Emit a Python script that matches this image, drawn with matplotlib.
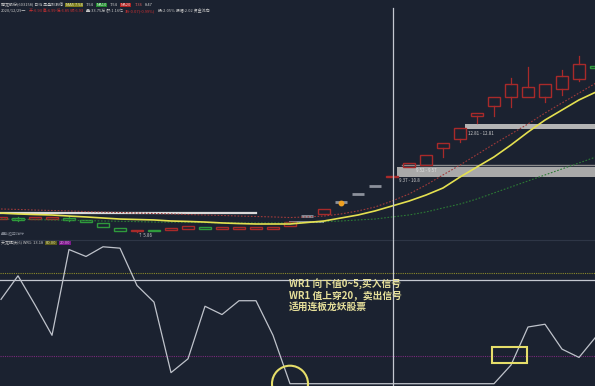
import matplotlib
matplotlib.use('Agg')
import matplotlib.pyplot as plt
from matplotlib.patches import Rectangle, Ellipse

plt.rcParams['font.family'] = ['Noto Sans CJK SC', 'DejaVu Sans']

W, H = 595, 386
BG = '#1b2230'

# ---- candle data (price) ----
opens  = [6.73, 6.80, 6.73, 6.73, 6.80, 6.67, 6.47, 6.13, 5.93, 6.03, 6.00, 6.07,
          6.17, 6.07, 6.07, 6.07, 6.07, 6.27, 6.90, 7.07, 7.83, 8.37, 8.90, 9.50,
          10.20, 10.33, 11.47, 12.07, 13.60, 14.27, 14.87, 14.87, 14.87, 15.40, 16.07, 16.93]
closes = [6.87, 6.67, 6.87, 6.87, 6.67, 6.53, 6.20, 5.93, 6.03, 5.93, 6.10, 6.27,
          6.07, 6.17, 6.17, 6.17, 6.17, 6.53, 6.97, 7.40, 7.90, 8.43, 8.97, 9.57,
          10.47, 11.00, 11.80, 12.80, 13.80, 14.87, 15.73, 15.53, 15.73, 16.27, 17.07, 16.80]
highs  = [6.87, 6.87, 6.87, 6.87, 6.93, 6.67, 6.47, 6.13, 6.03, 6.03, 6.10, 6.27,
          6.17, 6.17, 6.17, 6.17, 6.17, 6.53, 6.97, 7.40, 7.90, 8.43, 8.97, 9.57,
          10.47, 11.00, 11.80, 12.80, 13.80, 14.87, 16.13, 16.87, 15.73, 16.67, 17.60, 17.33]
lows   = [6.73, 6.60, 6.73, 6.73, 6.60, 6.53, 6.20, 5.93, 5.87, 5.93, 6.00, 6.07,
          6.07, 6.07, 6.07, 6.07, 6.07, 6.27, 6.90, 7.07, 7.83, 8.37, 8.90, 9.50,
          10.20, 10.33, 10.87, 11.87, 13.13, 13.60, 14.20, 14.87, 14.53, 15.00, 15.93, 16.53]
kinds  = ['r', 'g', 'r', 'r', 'g', 'g', 'g', 'g', 'r', 'g', 'r', 'r',
          'g', 'r', 'r', 'r', 'r', 'r', 'x', 'r', 'x', 'x', 'x', 'r',
          'r', 'r', 'r', 'r', 'r', 'r', 'r', 'r', 'r', 'r', 'r', 'g']

# ---- moving averages ----
ma_yellow = [7.13, 7.07, 7.03, 7.00, 6.93, 6.87, 6.80, 6.73, 6.70, 6.67, 6.60, 6.57,
             6.53, 6.47, 6.43, 6.40, 6.40, 6.40, 6.50, 6.60, 6.80, 7.00, 7.27, 7.60,
             7.93, 8.33, 8.80, 9.53, 10.20, 10.87, 11.67, 12.53, 13.33, 14.00, 14.67, 15.20]
ma_red    = [7.40, 7.37, 7.33, 7.30, 7.27, 7.23, 7.20, 7.17, 7.13, 7.10, 7.07, 7.03,
             7.00, 6.97, 6.93, 6.90, 6.87, 6.83, 6.87, 6.93, 7.07, 7.27, 7.53, 7.93,
             8.40, 9.00, 9.67, 10.33, 11.03, 11.73, 12.40, 13.07, 13.80, 14.47, 15.13, 15.80]
ma_green  = [6.73, 6.71, 6.69, 6.67, 6.65, 6.63, 6.60, 6.58, 6.56, 6.53, 6.52, 6.51,
             6.49, 6.48, 6.47, 6.47, 6.47, 6.47, 6.50, 6.55, 6.60, 6.67, 6.73, 6.87,
             7.00, 7.20, 7.47, 7.73, 8.07, 8.47, 8.87, 9.27, 9.67, 10.07, 10.47, 10.87]

# ---- WR indicator ----
wr1 = [61, 78, 57, 35, 97, 92, 99, 98, 71, 59, 8, 18, 56, 50, 60, 60, 35, 0,
       0, 0, 0, 0, 0, 0, 0, 0, 0, 0, 0, 0, 13.5, 41, 43, 25, 19, 34]
wr_levels = [80, 20]

annot_lines = ['WR1 向下值0~5,买入信号', 'WR1 值上穿20，卖出信号', '适用连板龙妖股票']

fig = plt.figure(figsize=(W / 100, H / 100), dpi=100, facecolor=BG)
ax = fig.add_axes([0, 146 / H, 1, 240 / H], facecolor=BG)
ax2 = fig.add_axes([0, 0, 1, 146 / H], facecolor=BG)
for a in (ax, ax2):
    a.set_xlim(-1 / 17, 594 / 17)
    a.set_xticks([]); a.set_yticks([])
    for s in a.spines.values():
        s.set_visible(False)
ax.set_ylim(5.333, 21.333)
ax2.set_ylim(-1.66, 103.9)
ax2.spines['top'].set_visible(True)
ax2.spines['top'].set_color('#2e3646')

n = len(opens)
xs = list(range(n))
colmap = {'r': '#a82a2a', 'g': '#2f9a3c', 'x': '#8c919b'}
bw = 0.74
for i in range(n):
    c = colmap[kinds[i]]
    lo, hi = min(opens[i], closes[i]), max(opens[i], closes[i])
    if kinds[i] == 'x':
        ax.plot([i - bw / 2, i + bw / 2], [(lo + hi) / 2] * 2, color=c, lw=2, solid_capstyle='butt', zorder=4)
        continue
    if highs[i] > hi:
        ax.plot([i, i], [hi, highs[i]], color=c, lw=0.9, zorder=4)
    if lows[i] < lo:
        ax.plot([i, i], [lows[i], lo], color=c, lw=0.9, zorder=4)
    ax.add_patch(Rectangle((i - bw / 2, lo), bw, max(hi - lo, 0.02), facecolor='none',
                           edgecolor=c, lw=1.0, zorder=4))

# level lines / bands
ax.plot([0.0, 15.0], [7.13, 7.13], color='#d9d9d9', lw=1.6, zorder=3)
ax.plot([17.0, 18.94], [6.53, 6.53], color='#8a8f99', lw=1.4, zorder=3)
ax.add_patch(Rectangle((27.3, 12.73), 8, 0.34, facecolor='#b4b4b4', edgecolor='none', zorder=3))
ax.add_patch(Rectangle((23.3, 9.53), 12, 0.67, facecolor='#a9a9a9', edgecolor='none', zorder=3))
ax.plot([23.6, 35], [10.33, 10.33], color='#8d8d8d', lw=1.0, zorder=3)
ax.text(27.45, 12.62, '12.81 - 12.81', color='#d0d0d0', fontsize=3.2, va='top', zorder=6)
ax.text(24.4, 10.12, '9.52 - 9.57', color='#e0e0e0', fontsize=3.2, va='top', zorder=6)
ax.text(23.4, 9.45, '9.37 - 10.8', color='#d0d0d0', fontsize=3.2, va='top', zorder=6)
ax.text(8.05, 5.82, '↑ 5.86', color='#d0d0d0', fontsize=3.2, va='top', zorder=6)

ax.plot(xs, ma_red, color='#a03a3a', lw=0.8, ls=(0, (1.5, 1.5)), zorder=5)
ax.plot(xs, ma_green, color='#2c7a35', lw=0.8, ls=(0, (1.5, 1.5)), zorder=5)
ax.plot(xs, ma_yellow, color='#e4e050', lw=1.2, zorder=5)
ax.plot([20], [7.80], 'o', color='#f0a020', ms=3.2, zorder=6)

# crosshair
cx = 392 / 17
ax.axvline(cx, ymin=0, ymax=(240 - 8) / 240, color='#c4c8d0', lw=0.9, zorder=7)
ax2.axvline(cx, color='#c4c8d0', lw=0.9, zorder=7)
ax2.axhline(75, color='#c4c8d0', lw=0.9, zorder=2)

# WR panel
ax2.axhline(wr_levels[0], color='#8c8a2a', lw=0.8, ls=(0, (1, 1)), zorder=2)
ax2.axhline(wr_levels[1], color='#7a2a7a', lw=0.8, ls=(0, (1, 1)), zorder=2)
ax2.plot(xs, wr1, color='#bfc3cb', lw=0.9, zorder=4)
ax2.add_patch(Ellipse((17, 0), 36 / 17, 36 / 1.383, facecolor='none', edgecolor='#e6de6a', lw=1.5, zorder=6))
ax2.add_patch(Rectangle((491 / 17, 15.0), 35 / 17, 11.5, facecolor='none', edgecolor='#e6de6a', lw=1.5, zorder=6))

def fx(px):
    return px / W

def fy(py):
    return 1 - py / H

for k, t in enumerate(annot_lines):
    fig.text(fx(289), fy(284 + 11.5 * k), t, color='#e6df9a', fontsize=7, fontweight='bold', va='center')

# header texts, chained so they never overlap
renderer = fig.canvas.get_renderer()
hs = 2.9

def chain(x_px, y_px, segs):
    x = x_px
    for txt, col, bg in segs:
        kw = {}
        if bg:
            kw['bbox'] = dict(facecolor=bg, edgecolor='none', pad=0.3)
        t = fig.text(fx(x), fy(y_px), txt, color=col, fontsize=hs, va='center', **kw)
        bb = t.get_window_extent(renderer)
        x = bb.x1 + (3.5 if bg else 2.5)

chain(1, 5, [('腾龙股份(603158) 日线 早盘抓涨停', '#c8c8c8', None),
             ('MA5 7.54', '#e8e8c0', '#7d7d1c'),
             ('7.54', '#d0d0d0', None),
             ('MA10', '#e0f0e0', '#1f8a2e'),
             ('7.54', '#d0d0d0', None),
             ('MA20', '#f0d0d0', '#b02020'),
             ('7.36', '#e06060', None),
             ('8.47', '#d0d0d0', None)])
chain(1, 11, [('2020/12/29一', '#c8c8c8', None),
              ('开:6.93 高:6.99 低:6.85 收:6.93', '#d03030', None),
              ('量:33.75万 额:1.16亿', '#c8c8c8', None),
              ('涨:-0.07(-0.99%)', '#d03030', None),
              ('换:2.05% 振幅:2.02 资金流向', '#c8c8c8', None)])

fig.text(fx(1), fy(233), '量能趋势指标', color='#7a808c', fontsize=hs, va='center')
chain(1, 243, [('天龙擒妖(6) WR1: 13.18', '#c8c8c8', None),
               ('80.00', '#e0e0a0', '#5a5a1a'),
               ('20.00', '#e0a0e0', '#7a1a8a')])

fig.savefig('out.png', dpi=100, facecolor=BG)
